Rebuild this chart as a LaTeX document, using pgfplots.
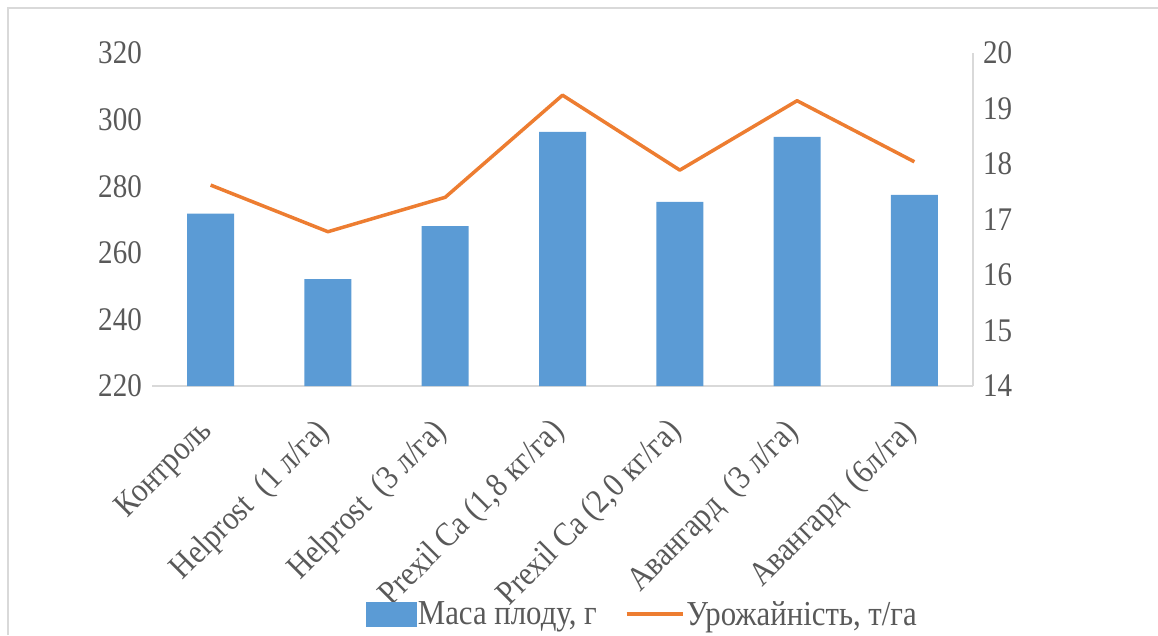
\documentclass[border=0pt]{standalone}
\usepackage{pgfplots}
\pgfplotsset{compat=1.18}
\usepackage{fontspec}
\setmainfont{Liberation Serif}[FakeStretch=0.88]
\definecolor{barblue}{HTML}{5B9BD5}
\definecolor{lineorange}{HTML}{ED7D31}
\definecolor{axgray}{HTML}{D9D9D9}
\definecolor{txtgray}{HTML}{595959}
\begin{document}
\begin{tikzpicture}
\path[use as bounding box] (0pt,0pt) rectangle (1158pt,635pt);
\draw[axgray, line width=1.5pt] (8pt,0pt) -- (8pt,627pt) -- (1158pt,627pt);
\begin{axis}[
  at={(152pt,249pt)}, anchor=south west,
  scale only axis, width=821pt, height=333pt,
  xmin=-0.5, xmax=6.5, ymin=220, ymax=320,
  ytick={220,240,...,320},
  xtick={0,...,6},
  xticklabels={{Контроль}, {Helprost~ (1 л/га)}, {Helprost~ (3 л/га)}, {Prexil Ca (1,8 кг/га)}, {Prexil Ca (2,0 кг/га)}, {Авангард~ (3 л/га)}, {Авангард~ (6л/га)}},
  axis x line*=bottom, axis y line*=left,
  x axis line style={axgray, line width=1.2pt, -},
  y axis line style={draw=none},
  major tick length=0pt,
  every tick label/.append style={font=\fontsize{33}{37}\selectfont, text=txtgray},
  /pgf/number format/assume math mode=true,
  xticklabel style={font=\fontsize{34}{38}\selectfont, rotate=45, anchor=east, inner sep=1pt, yshift=-27pt, xshift=-30pt},
  yticklabel style={inner sep=2pt, xshift=-8pt},
  clip=false,
]
\addplot[ybar, bar width=47pt, bar shift=0pt, fill=barblue, draw=none] coordinates {
(0,271.8) (1,252.1) (2,268.0) (3,296.3) (4,275.3) (5,294.8) (6,277.4)};
\end{axis}
\begin{axis}[
  at={(152pt,249pt)}, anchor=south west,
  scale only axis, width=821pt, height=333pt,
  xmin=-0.5, xmax=6.5, ymin=14, ymax=20,
  ytick={14,...,20},
  axis y line*=right, axis x line=none,
  y axis line style={axgray, line width=1.2pt, -},
  major tick length=0pt,
  every tick label/.append style={font=\fontsize{33}{37}\selectfont, text=txtgray},
  /pgf/number format/assume math mode=true,
  yticklabel style={inner sep=2pt, xshift=8pt},
  clip=false,
  legend columns=2,
  legend style={at={(0.597,-0.685)}, anchor=center, draw=none, fill=none,
    font=\fontsize{35}{38}\selectfont, text=txtgray, inner sep=0pt,
    /tikz/every even column/.append style={column sep=26pt}},
]
\addlegendimage{legend image code/.code={\fill[barblue] (0pt,-12pt) rectangle (50pt,12pt);}}
\addlegendentry{Маса плоду, г}
\addplot[lineorange, line width=3.5pt, line join=round, mark=none,
  legend image code/.code={\draw[lineorange, line width=3.5pt] (0pt,0pt) -- (56pt,0pt);}] coordinates {
(0,17.62) (1,16.78) (2,17.40) (3,19.24) (4,17.89) (5,19.14) (6,18.04)};
\addlegendentry{Урожайність, т/га}
\end{axis}
\end{tikzpicture}
\end{document}
